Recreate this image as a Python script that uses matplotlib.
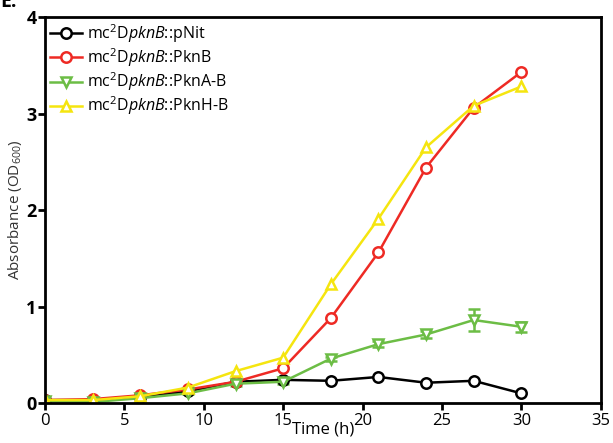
import numpy as np
import matplotlib
matplotlib.use("Agg")
import matplotlib.pyplot as plt

# datos
tiempo = [0, 3, 6, 9, 12, 15, 18, 21, 24, 27, 30]
pnit = [0.03, 0.03, 0.06, 0.12, 0.22, 0.24, 0.23, 0.27, 0.21, 0.23, 0.10]
pknb = [0.03, 0.04, 0.08, 0.14, 0.22, 0.36, 0.88, 1.56, 2.44, 3.06, 3.43]
pkna_b = [0.02, 0.01, 0.05, 0.10, 0.20, 0.22, 0.46, 0.61, 0.71, 0.86, 0.79]
pkna_b_err = [0.01, 0.01, 0.01, 0.01, 0.02, 0.02, 0.02, 0.03, 0.04, 0.11, 0.05]
pknh_b = [0.03, 0.03, 0.07, 0.16, 0.33, 0.47, 1.23, 1.91, 2.65, 3.08, 3.28]

etiquetas = ["mc$^{2}$D$\\it{pknB}$::pNit",
             "mc$^{2}$D$\\it{pknB}$::PknB",
             "mc$^{2}$D$\\it{pknB}$::PknA-B",
             "mc$^{2}$D$\\it{pknB}$::PknH-B"]

plt.rcParams['font.family'] = ['Open Sans', 'DejaVu Sans']
plt.rcParams['mathtext.fontset'] = 'custom'
plt.rcParams['mathtext.rm'] = 'Open Sans'
plt.rcParams['mathtext.it'] = 'Open Sans:italic'

fig = plt.figure(figsize=(6.13, 4.43), dpi=100)
ax = fig.add_axes([0.0734, 0.0903, 0.9066, 0.8713])

estilo = dict(linewidth=1.8, markersize=7.5, markerfacecolor='white',
              markeredgewidth=1.8, capsize=4, elinewidth=1.8, capthick=1.8)

c1 = ax.errorbar(tiempo, pnit, color='black', marker='o', **estilo)
c2 = ax.errorbar(tiempo, pknb, color='#ee2a24', marker='o', **estilo)
c3 = ax.errorbar(tiempo, pkna_b, yerr=pkna_b_err, color='#6cbd45', marker='v', **estilo)
c4 = ax.errorbar(tiempo, pknh_b, color='#f5e50f', marker='^', **estilo)

ax.set_xlim(0, 35)
ax.set_ylim(0, 4)
ax.set_xticks(range(0, 36, 5))
ax.set_yticks(range(0, 5))
for s in ax.spines.values():
    s.set_linewidth(2)
ax.tick_params(axis='both', width=2, length=5, direction='out')
ax.tick_params(axis='x', labelsize=12, pad=2)
ax.tick_params(axis='y', labelsize=13, pad=1)
for t in ax.get_yticklabels():
    t.set_fontweight('bold')

ax.set_xlabel('Time (h)', fontsize=12, labelpad=-5)
ax.set_ylabel('Absorbance (OD$_{600}$)', fontsize=11, color='#333333', labelpad=2)

leg = ax.legend([c1[0], c2[0], c3[0], c4[0]], etiquetas, loc='upper left',
                frameon=False, fontsize=11.5, handlelength=2.0,
                handletextpad=0.3, labelspacing=0.1, borderaxespad=0.2,
                borderpad=0.1)

fig.text(0.0, 0.995, 'E.', fontsize=14, fontweight='bold', va='center', ha='left')

fig.savefig('out.png', dpi=100)
